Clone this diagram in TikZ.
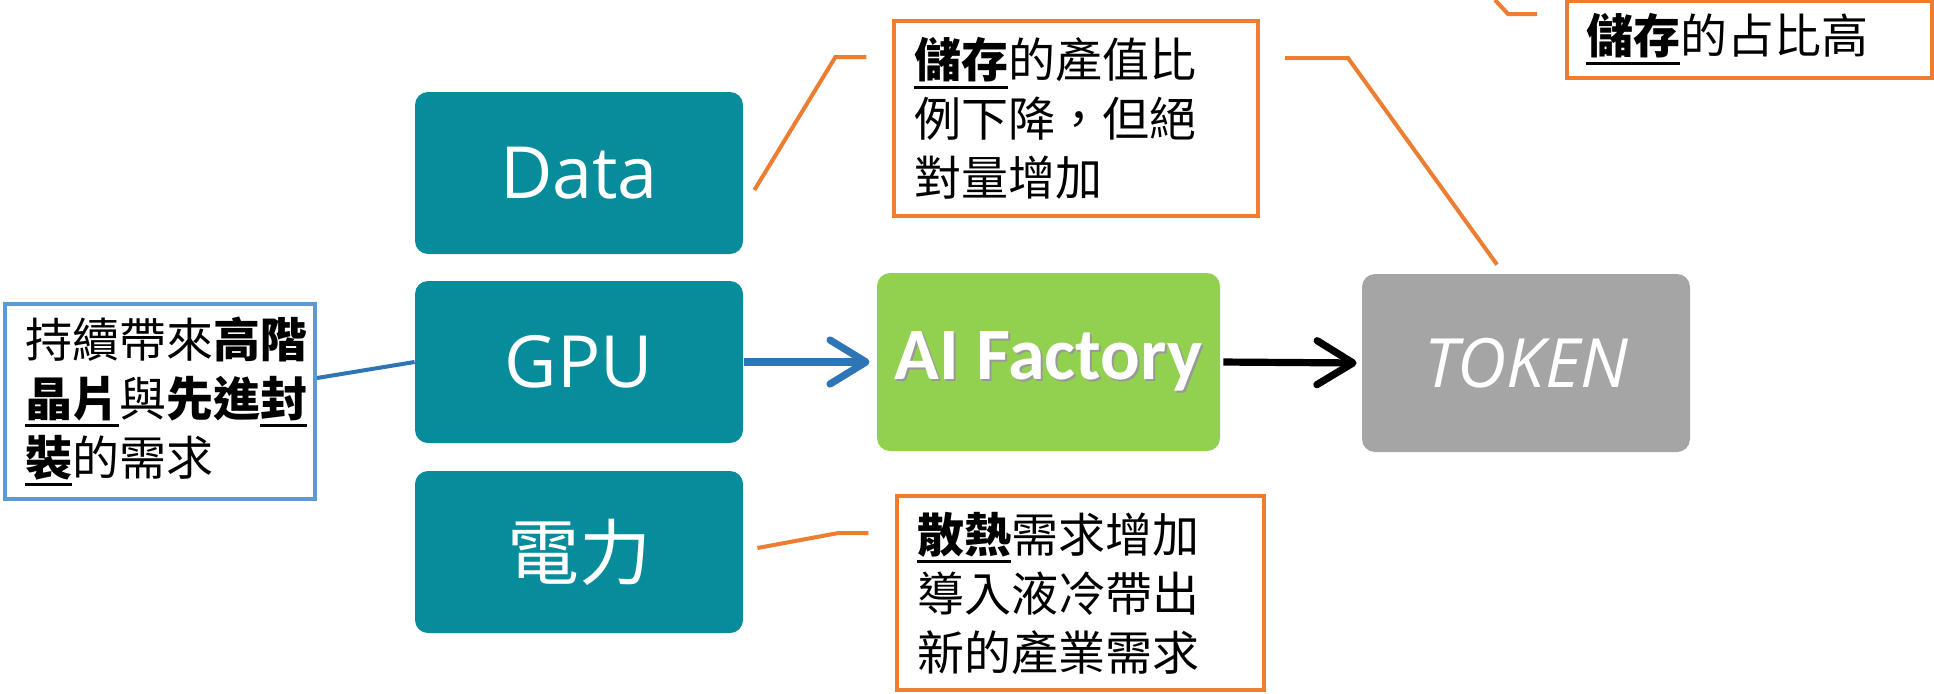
\documentclass[tikz,border=0pt]{standalone}
\usepackage{fontspec}
\setmainfont{Open Sans}
\newfontfamily\cjk{Noto Sans CJK TC}
\newfontfamily\calibri{Carlito}
\usetikzlibrary{calc}
\usetikzlibrary{arrows.meta}
\definecolor{boxteal}{HTML}{078C9B}
\definecolor{factorygreen}{HTML}{92D050}
\definecolor{tokengray}{HTML}{A5A5A5}
\definecolor{flowblue}{HTML}{2E75B6}
\definecolor{noteorange}{HTML}{ED7D31}
\definecolor{noteblue}{HTML}{5B9BD5}
\newcommand{\keyterm}[1]{{\setbox0\hbox{\textbf{#1}}\rlap{\rule[-0.24em]{\wd0}{0.065em}}\box0}}
\newcommand{\shadowtext}[1]{\makebox[0pt][l]{\hspace{1pt}\raisebox{-1pt}{\color{black!40}#1}}#1}

\begin{document}
\begin{tikzpicture}[x=0.5pt, y=-0.5pt,
  srcbox/.style={fill=boxteal, text=white, rounded corners=6.5pt, minimum width=164pt, minimum height=81pt, inner sep=0pt},
  note/.style={draw=noteorange, line width=2pt, inner sep=0pt},
  notetext/.style={anchor=west, align=left, inner sep=0pt, font=\cjk\fontsize{23.5}{29.5}\selectfont},
  leader/.style={noteorange, line width=2pt},
  flow/.style={line width=3.6pt, -{Straight Barb[length=18pt, width=22pt, round]}}]
\useasboundingbox (0,0) rectangle (1934,693);
\foreach \name/\y/\txt in {data/173/Data, gpu/362/GPU, power/552/{\cjk 電力}} {
  \node[srcbox, font=\fontsize{36}{40}\selectfont] (\name) at (579,\y) {\txt};
}
\node[fill=factorygreen, rounded corners=6.5pt, minimum width=171.5pt, minimum height=89pt, text=white, font=\calibri\bfseries\fontsize{37}{40}\selectfont] (factory) at (1048.5,362) {\shadowtext{AI Factory}};
\node[fill=tokengray, rounded corners=6.5pt, minimum width=164pt, minimum height=89pt, text=white, font=\itshape\fontsize{34}{38}\selectfont] (token) at (1526,363) {TOKEN};
\draw[flow, flowblue, shorten <=0.5pt, shorten >=3.5pt] (gpu.east) -- (factory.west);
\draw[flow, black, shorten <=1.5pt, shorten >=2.5pt] (factory.east) -- (token.west);

% callouts
\node[note, draw=noteblue, minimum width=155pt, minimum height=97.5pt] (gpunote) at (160,401.5) {};
\node[notetext] (gpunotetext) at ($(gpunote.west)+(22,0)$) {持續帶來\textbf{高階}\\\keyterm{晶片}與\textbf{先進}\keyterm{封}\\\keyterm{裝}的需求};
\draw[flowblue, line width=2pt] ($(gpunote.east)+(0,-23.5)$) -- (gpu.west);

\node[note, minimum width=182pt, minimum height=97.5pt] (datanote) at (1076,118.5) {};
\node[notetext] (datanotetext) at ($(datanote.west)+(22,0)$) {\keyterm{儲存}的產值比\\例下降，但絕\\對量增加};
\coordinate (dataend) at ($(data.east)+(11,17)$);
\draw[leader] (dataend) -- ++(81,-133) -- ++(31,0);
\coordinate (tokenend) at ($(token.north)+(-29,-9)$);
\draw[leader] ($(datanote.east)+(25,-60.5)$) -- ++(63,0) -- (tokenend);

\node[note, minimum width=182.5pt, minimum height=38.5pt] (sharenote) at (1749.5,39.5) {};
\node[notetext] (sharenotetext) at ($(sharenote.west)+(21,0)$) {\keyterm{儲存}的占比高};
\coordinate (topend) at (1495,0);
\draw[leader] (topend) -- ++(13,14) -- ++(29,0);

\node[note, minimum width=183.5pt, minimum height=97pt] (powernote) at (1080.5,593) {};
\node[notetext] (powernotetext) at ($(powernote.west)+(22,0)$) {\keyterm{散熱}需求增加\\導入液冷帶出\\新的產業需求};
\coordinate (powerend) at ($(power.east)+(14,-4)$);
\draw[leader] (powerend) -- ++(81,-15) -- ++(30,0);
\end{tikzpicture}
\end{document}
